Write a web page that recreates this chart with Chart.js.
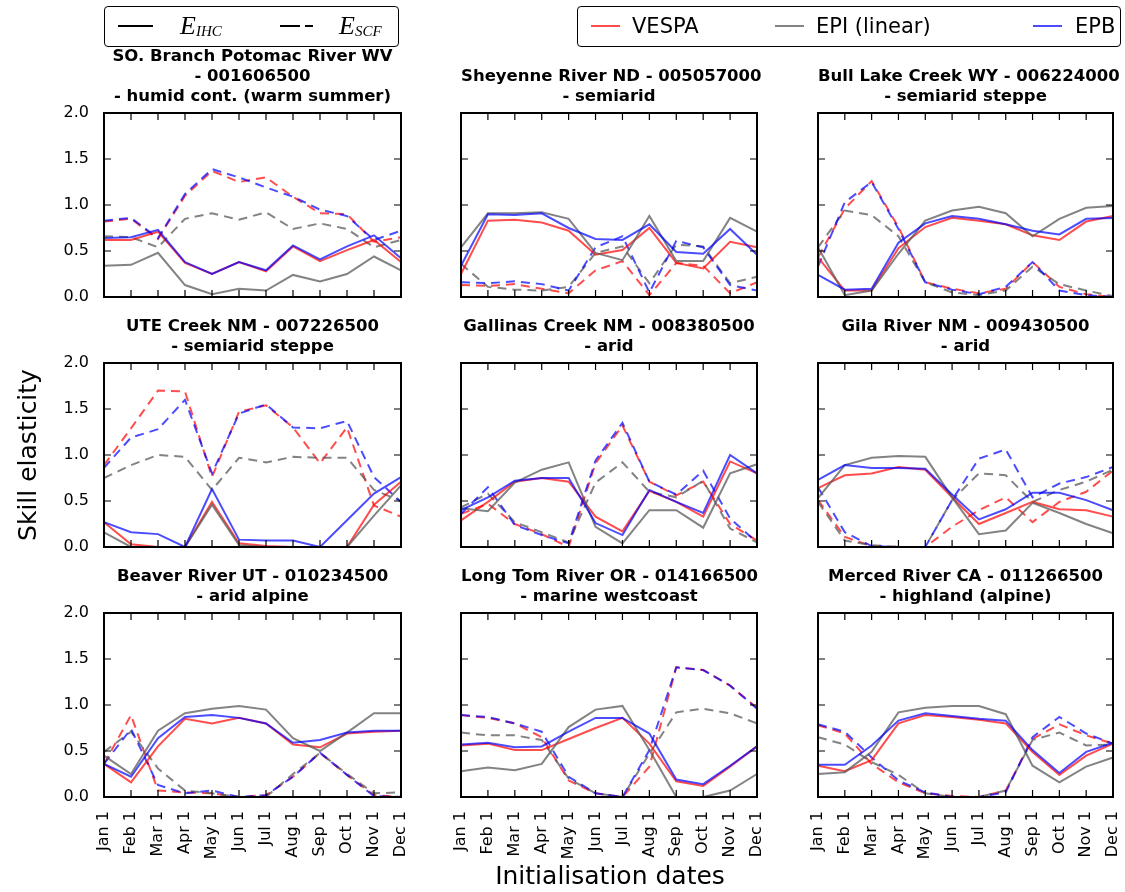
<!DOCTYPE html>
<html><head><meta charset="utf-8">
<script src="https://cdn.jsdelivr.net/npm/chart.js@4/dist/chart.umd.min.js"></script>
<style>
html,body{margin:0;padding:0;background:#fff;}
body{width:1125px;height:892px;position:relative;overflow:hidden;font-family:"DejaVu Sans",sans-serif;color:#000;}
.panel{position:absolute;}
.title{position:absolute;text-align:center;font-weight:bold;font-size:16.5px;line-height:20px;white-space:nowrap;}
.box{position:absolute;border:1.5px solid #000;border-radius:4px;box-sizing:border-box;}
.ln{position:absolute;height:0;border-top-style:solid;border-top-width:2px;}
.lt{position:absolute;font-size:21px;line-height:24px;white-space:nowrap;}
.math{position:absolute;font-family:"Liberation Serif",serif;font-style:italic;font-size:26px;line-height:28px;white-space:nowrap;}
.math sub{font-size:15px;vertical-align:-2px;}
.axt{position:absolute;font-size:25px;line-height:28px;white-space:nowrap;}
</style>
</head><body>
<script>
// ---------- data ----------
const months = ["Jan 1","Feb 1","Mar 1","Apr 1","May 1","Jun 1","Jul 1","Aug 1","Sep 1","Oct 1","Nov 1","Dec 1"];
const yTicks = [0.0, 0.5, 1.0, 1.5, 2.0];
const titles = [
  ["SO. Branch Potomac River WV","- 001606500","- humid cont. (warm summer)"],
  ["Sheyenne River ND - 005057000","- semiarid"],
  ["Bull Lake Creek WY - 006224000","- semiarid steppe"],
  ["UTE Creek NM - 007226500","- semiarid steppe"],
  ["Gallinas Creek NM - 008380500","- arid"],
  ["Gila River NM - 009430500","- arid"],
  ["Beaver River UT - 010234500","- arid alpine"],
  ["Long Tom River OR - 014166500","- marine westcoast"],
  ["Merced River CA - 011266500","- highland (alpine)"]
];
const seriesNames = ["VESPA","EPI (linear)","EPB"];
const componentNames = ["E_IHC","E_SCF"];

// 1 SO. Branch Potomac
const potomac_vespa_ihc = [0.62,0.62,0.71,0.37,0.25,0.38,0.28,0.55,0.39,0.51,0.62,0.38];
const potomac_epi_ihc   = [0.34,0.35,0.48,0.13,0.03,0.09,0.07,0.24,0.17,0.25,0.44,0.29];
const potomac_epb_ihc   = [0.64,0.65,0.73,0.38,0.25,0.38,0.29,0.56,0.41,0.55,0.67,0.42];
const potomac_vespa_scf = [0.82,0.85,0.63,1.10,1.37,1.25,1.30,1.09,0.91,0.90,0.60,0.65];
const potomac_epi_scf   = [0.66,0.65,0.54,0.85,0.91,0.84,0.92,0.74,0.80,0.74,0.54,0.62];
const potomac_epb_scf   = [0.83,0.86,0.64,1.12,1.39,1.30,1.19,1.09,0.95,0.88,0.62,0.72];
// 2 Sheyenne
const sheyenne_vespa_ihc = [0.25,0.83,0.84,0.81,0.72,0.46,0.51,0.75,0.37,0.31,0.60,0.54];
const sheyenne_epi_ihc   = [0.54,0.91,0.91,0.92,0.85,0.48,0.40,0.88,0.39,0.39,0.86,0.71];
const sheyenne_epb_ihc   = [0.34,0.90,0.89,0.91,0.75,0.63,0.62,0.79,0.49,0.47,0.74,0.46];
const sheyenne_vespa_scf = [0.13,0.12,0.14,0.09,0.04,0.29,0.39,0.02,0.37,0.34,0.04,0.16];
const sheyenne_epi_scf   = [0.36,0.11,0.08,0.07,0.11,0.48,0.55,0.15,0.57,0.55,0.15,0.22];
const sheyenne_epb_scf   = [0.16,0.15,0.17,0.14,0.07,0.54,0.66,0.05,0.61,0.54,0.13,0.07];
// 3 Bull Lake
const bull_vespa_ihc = [0.43,0.07,0.07,0.53,0.76,0.86,0.83,0.79,0.67,0.62,0.82,0.88];
const bull_epi_ihc   = [0.54,0.02,0.07,0.47,0.83,0.94,0.98,0.91,0.66,0.85,0.97,0.99];
const bull_epb_ihc   = [0.24,0.08,0.09,0.59,0.80,0.88,0.85,0.79,0.72,0.68,0.85,0.86];
const bull_vespa_scf = [0.43,0.96,1.26,0.76,0.16,0.09,0.04,0.09,0.38,0.11,0.03,0.00];
const bull_epi_scf   = [0.54,0.94,0.89,0.66,0.16,0.05,0.02,0.07,0.33,0.14,0.07,0.01];
const bull_epb_scf   = [0.33,1.03,1.25,0.74,0.16,0.08,0.03,0.11,0.38,0.07,0.02,0.00];
// 4 UTE Creek
const ute_vespa_ihc = [0.27,0.03,0.00,0.00,0.49,0.04,0.01,0.00,0.00,0.00,0.46,0.71];
const ute_epi_ihc   = [0.16,0.00,0.00,0.00,0.46,0.02,0.00,0.00,0.00,0.00,0.34,0.67];
const ute_epb_ihc   = [0.27,0.16,0.14,0.00,0.63,0.08,0.07,0.07,0.00,0.29,0.58,0.76];
const ute_vespa_scf = [0.89,1.29,1.70,1.69,0.76,1.47,1.54,1.30,0.91,1.30,0.45,0.33];
const ute_epi_scf   = [0.75,0.89,1.00,0.98,0.62,0.97,0.92,0.98,0.97,0.97,0.62,0.50];
const ute_epb_scf   = [0.86,1.19,1.28,1.60,0.80,1.45,1.55,1.30,1.29,1.37,0.76,0.49];
// 5 Gallinas
const gallinas_vespa_ihc = [0.29,0.49,0.71,0.75,0.71,0.33,0.17,0.61,0.49,0.33,0.93,0.80];
const gallinas_epi_ihc   = [0.42,0.39,0.70,0.84,0.92,0.22,0.04,0.40,0.40,0.21,0.80,0.90];
const gallinas_epb_ihc   = [0.40,0.54,0.72,0.75,0.75,0.26,0.13,0.62,0.49,0.37,1.00,0.80];
const gallinas_vespa_scf = [0.36,0.47,0.25,0.14,0.00,0.91,1.32,0.71,0.56,0.71,0.25,0.07];
const gallinas_epi_scf   = [0.43,0.58,0.27,0.16,0.05,0.70,0.92,0.60,0.54,0.72,0.20,0.05];
const gallinas_epb_scf   = [0.36,0.65,0.24,0.13,0.04,0.94,1.35,0.71,0.57,0.83,0.31,0.05];
// 6 Gila
const gila_vespa_ihc = [0.64,0.78,0.80,0.87,0.84,0.54,0.25,0.37,0.49,0.41,0.40,0.33];
const gila_epi_ihc   = [0.53,0.89,0.97,0.99,0.98,0.54,0.14,0.18,0.48,0.37,0.25,0.15];
const gila_epb_ihc   = [0.73,0.89,0.86,0.86,0.85,0.57,0.30,0.41,0.59,0.59,0.51,0.40];
const gila_vespa_scf = [0.51,0.11,0.01,0.00,0.00,0.22,0.40,0.54,0.27,0.49,0.60,0.83];
const gila_epi_scf   = [0.49,0.07,0.02,0.00,0.00,0.51,0.80,0.78,0.49,0.62,0.71,0.84];
const gila_epb_scf   = [0.65,0.16,0.01,0.00,0.00,0.51,0.96,1.06,0.54,0.69,0.76,0.87];
// 7 Beaver
const beaver_vespa_ihc = [0.36,0.16,0.55,0.85,0.80,0.86,0.80,0.57,0.54,0.69,0.71,0.72];
const beaver_epi_ihc   = [0.45,0.25,0.72,0.91,0.96,0.99,0.95,0.64,0.50,0.70,0.91,0.91];
const beaver_epb_ihc   = [0.36,0.22,0.64,0.87,0.89,0.86,0.80,0.59,0.62,0.70,0.72,0.72];
const beaver_vespa_scf = [0.36,0.89,0.07,0.05,0.04,0.00,0.02,0.22,0.48,0.24,0.02,0.00];
const beaver_epi_scf   = [0.49,0.71,0.31,0.07,0.04,0.00,0.00,0.25,0.48,0.25,0.04,0.05];
const beaver_epb_scf   = [0.36,0.74,0.13,0.04,0.07,0.00,0.02,0.22,0.48,0.24,0.01,0.00];
// 8 Long Tom
const longtom_vespa_ihc = [0.56,0.58,0.51,0.51,0.63,0.75,0.86,0.58,0.17,0.12,0.33,0.55];
const longtom_epi_ihc   = [0.28,0.32,0.29,0.36,0.76,0.95,0.99,0.51,0.00,0.00,0.07,0.25];
const longtom_epb_ihc   = [0.57,0.59,0.54,0.55,0.71,0.86,0.86,0.69,0.19,0.14,0.34,0.55];
const longtom_vespa_scf = [0.89,0.86,0.80,0.65,0.18,0.04,0.00,0.33,1.41,1.38,1.21,0.97];
const longtom_epi_scf   = [0.70,0.67,0.67,0.62,0.20,0.04,0.00,0.47,0.92,0.96,0.91,0.80];
const longtom_epb_scf   = [0.89,0.87,0.80,0.71,0.22,0.04,0.00,0.51,1.41,1.38,1.21,0.96];
// 9 Merced
const merced_vespa_ihc = [0.34,0.28,0.40,0.80,0.89,0.87,0.84,0.80,0.49,0.24,0.45,0.58];
const merced_epi_ihc   = [0.25,0.27,0.49,0.92,0.97,0.99,0.99,0.90,0.34,0.16,0.33,0.43];
const merced_epb_ihc   = [0.35,0.35,0.56,0.83,0.91,0.88,0.85,0.83,0.51,0.26,0.49,0.59];
const merced_vespa_scf = [0.78,0.69,0.36,0.16,0.04,0.01,0.00,0.07,0.63,0.79,0.67,0.58];
const merced_epi_scf   = [0.65,0.57,0.38,0.24,0.04,0.00,0.00,0.07,0.62,0.70,0.56,0.57];
const merced_epb_scf   = [0.79,0.71,0.43,0.18,0.05,0.00,0.00,0.05,0.65,0.87,0.69,0.58];

// ---------- layout & style ----------
const panels = [
  [potomac_vespa_ihc, potomac_epi_ihc, potomac_epb_ihc, potomac_vespa_scf, potomac_epi_scf, potomac_epb_scf],
  [sheyenne_vespa_ihc, sheyenne_epi_ihc, sheyenne_epb_ihc, sheyenne_vespa_scf, sheyenne_epi_scf, sheyenne_epb_scf],
  [bull_vespa_ihc, bull_epi_ihc, bull_epb_ihc, bull_vespa_scf, bull_epi_scf, bull_epb_scf],
  [ute_vespa_ihc, ute_epi_ihc, ute_epb_ihc, ute_vespa_scf, ute_epi_scf, ute_epb_scf],
  [gallinas_vespa_ihc, gallinas_epi_ihc, gallinas_epb_ihc, gallinas_vespa_scf, gallinas_epi_scf, gallinas_epb_scf],
  [gila_vespa_ihc, gila_epi_ihc, gila_epb_ihc, gila_vespa_scf, gila_epi_scf, gila_epb_scf],
  [beaver_vespa_ihc, beaver_epi_ihc, beaver_epb_ihc, beaver_vespa_scf, beaver_epi_scf, beaver_epb_scf],
  [longtom_vespa_ihc, longtom_epi_ihc, longtom_epb_ihc, longtom_vespa_scf, longtom_epi_scf, longtom_epb_scf],
  [merced_vespa_ihc, merced_epi_ihc, merced_epb_ihc, merced_vespa_scf, merced_epi_scf, merced_epb_scf]
];
const colors = ["rgba(255,0,0,0.7)", "rgba(90,90,90,0.75)", "rgba(0,0,255,0.7)"];
const plotLeft = [104, 461, 818];
const plotWidth = [297, 296, 295];
const plotTop = [113, 363, 613];
const plotHeight = 184;
const ML = 60, MT = 12, MR = 12, MB = 80;

const framePlugin = {
  id: 'frameTicks',
  afterDatasetsDraw(chart) {
    const {ctx, chartArea: a, scales: {x, y}} = chart;
    ctx.save();
    ctx.strokeStyle = '#000';
    ctx.lineWidth = 1.2;
    ctx.beginPath();
    for (let i = 0; i < months.length; i++) {
      const px = x.getPixelForValue(i);
      ctx.moveTo(px, a.bottom); ctx.lineTo(px, a.bottom - 7);
      ctx.moveTo(px, a.top); ctx.lineTo(px, a.top + 7);
    }
    for (const v of yTicks) {
      const py = y.getPixelForValue(v);
      ctx.moveTo(a.left, py); ctx.lineTo(a.left + 7, py);
      ctx.moveTo(a.right, py); ctx.lineTo(a.right - 7, py);
    }
    ctx.stroke();
    ctx.lineWidth = 2;
    ctx.strokeRect(a.left, a.top, a.right - a.left, a.bottom - a.top);
    ctx.restore();
  }
};

function addDiv(cls, style, html) {
  const d = document.createElement('div');
  d.className = cls;
  Object.assign(d.style, style);
  d.innerHTML = html;
  document.body.appendChild(d);
  return d;
}

panels.forEach((series, idx) => {
  const col = idx % 3, row = Math.floor(idx / 3);
  const L = plotLeft[col], T = plotTop[row], W = plotWidth[col], H = plotHeight;
  const cw = W + ML + MR, ch = H + MT + MB;
  const wrap = addDiv('panel', {left: (L - ML) + 'px', top: (T - MT) + 'px', width: cw + 'px', height: ch + 'px'}, '');
  const canvas = document.createElement('canvas');
  canvas.width = cw; canvas.height = ch;
  canvas.style.width = cw + 'px'; canvas.style.height = ch + 'px';
  wrap.appendChild(canvas);

  const lines = titles[idx];
  const lh = 20;
  addDiv('title', {left: L + 'px', width: W + 'px', top: (T - 7 - lines.length * lh) + 'px'}, lines.join('<br>'));

  // EPB drawn on top, then EPI, then VESPA (first dataset is drawn last)
  const drawOrder = [2, 1, 0];
  const datasets = [];
  drawOrder.forEach(s => {
    datasets.push({label: seriesNames[s] + ' ' + componentNames[0], data: series[s], borderColor: colors[s],
                   borderWidth: 2, pointRadius: 0, tension: 0, fill: false});
  });
  drawOrder.forEach(s => {
    datasets.push({label: seriesNames[s] + ' ' + componentNames[1], data: series[3 + s], borderColor: colors[s],
                   borderWidth: 2, borderDash: [9, 6], pointRadius: 0, tension: 0, fill: false});
  });

  new Chart(canvas, {
    type: 'line',
    data: {labels: months, datasets: datasets},
    options: {
      responsive: false,
      animation: false,
      devicePixelRatio: 1,
      layout: {padding: {left: 0, top: MT, right: MR, bottom: 0}},
      plugins: {legend: {display: false}, tooltip: {enabled: false}, title: {display: false}},
      scales: {
        x: {
          type: 'category', offset: false,
          grid: {display: false}, border: {display: false},
          ticks: {display: row === 2, autoSkip: false, maxRotation: 90, minRotation: 90, color: '#000',
                  font: {size: 16, family: 'DejaVu Sans'}, padding: 6},
          afterFit(s) { s.height = MB; s.paddingLeft = 0; s.paddingRight = 0; }
        },
        y: {
          min: 0, max: 2,
          afterBuildTicks(s) { s.ticks = yTicks.map(v => ({value: v})); },
          grid: {display: false}, border: {display: false},
          ticks: {display: col === 0, color: '#000', font: {size: 16, family: 'DejaVu Sans'}, padding: 7,
                  callback: v => Number(v).toFixed(1)},
          afterFit(s) { s.width = ML; s.paddingTop = 0; s.paddingBottom = 0; }
        }
      }
    },
    plugins: [framePlugin]
  });
});

// ---------- legends ----------
addDiv('box', {left: '104px', top: '6px', width: '295px', height: '41px'}, '');
addDiv('ln', {left: '118px', top: '25px', width: '35px', borderTopColor: '#000'}, '');
addDiv('math', {left: '180px', top: '12px'}, 'E<sub>IHC</sub>');
addDiv('ln', {left: '280px', top: '25px', width: '20px', borderTopColor: '#000'}, '');
addDiv('ln', {left: '305px', top: '25px', width: '8px', borderTopColor: '#000'}, '');
addDiv('math', {left: '339px', top: '12px'}, 'E<sub>SCF</sub>');

addDiv('box', {left: '577px', top: '6px', width: '544px', height: '41px'}, '');
addDiv('ln', {left: '591px', top: '25px', width: '29px', borderTopColor: colors[0]}, '');
addDiv('lt', {left: '632px', top: '14px'}, seriesNames[0]);
addDiv('ln', {left: '775px', top: '25px', width: '29px', borderTopColor: colors[1]}, '');
addDiv('lt', {left: '816px', top: '14px'}, seriesNames[1]);
addDiv('ln', {left: '1033px', top: '25px', width: '29px', borderTopColor: colors[2]}, '');
addDiv('lt', {left: '1075px', top: '14px'}, seriesNames[2]);

// ---------- axis titles ----------
addDiv('axt', {left: '28px', top: '455px', transform: 'translate(-50%,-50%) rotate(-90deg)'}, 'Skill elasticity');
addDiv('axt', {left: '610px', top: '876px', transform: 'translate(-50%,-50%)'}, 'Initialisation dates');
</script>
</body></html>
